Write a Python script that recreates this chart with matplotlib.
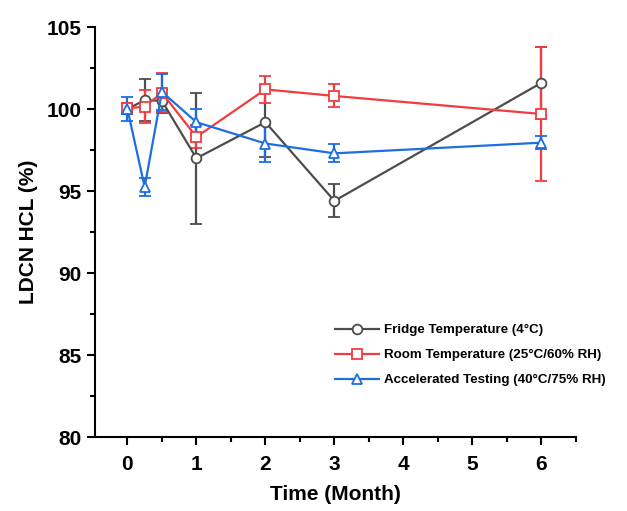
import numpy as np
import matplotlib
matplotlib.use('Agg')
import matplotlib.pyplot as plt
from matplotlib.ticker import MultipleLocator

plt.rcParams['font.family'] = ['Liberation Sans', 'DejaVu Sans']
plt.rcParams['font.weight'] = 'bold'

# time points (month)
months = [0, 0.25, 0.5, 1, 2, 3, 6]

# Fridge Temperature (4°C)
fridge = [100.0, 100.55, 100.5, 97.0, 99.2, 94.4, 101.6]
fridge_err = [0.3, 1.3, 0.75, 4.0, 2.1, 1.0, 2.2]

# Room Temperature (25°C/60% RH)
room = [100.05, 100.15, 101.0, 98.3, 101.2, 100.8, 99.7]
room_err = [0.3, 1.0, 1.2, 0.7, 0.8, 0.7, 4.1]

# Accelerated Testing (40°C/75% RH)
accel = [100.0, 95.25, 101.05, 99.2, 97.9, 97.3, 97.95]
accel_err = [0.75, 0.55, 1.1, 0.8, 1.1, 0.55, 0.4]

labels = ['Fridge Temperature (4°C)', 'Room Temperature (25°C/60% RH)',
          'Accelerated Testing (40°C/75% RH)']
colors = ['#4d4d4d', '#f23c3f', '#1c6fe0']
markers = ['o', 's', '^']

fig = plt.figure(figsize=(6.27, 5.11), dpi=100)
ax = fig.add_axes([0.1515, 0.1448, 0.767, 0.8022])

handles = []
for y, e, lab, c, m in zip([fridge, room, accel], [fridge_err, room_err, accel_err],
                           labels, colors, markers):
    cont = ax.errorbar(months, y, yerr=e, color=c, marker=m, markersize=7,
                       markerfacecolor='white', markeredgecolor=c, markeredgewidth=1.3,
                       linewidth=1.6, elinewidth=1.6, capsize=4, capthick=1.6, label=lab)
    handles.append(cont.lines[0])

ax.set_xlim(-0.47, 6.5)
ax.set_ylim(80, 105)
ax.xaxis.set_major_locator(MultipleLocator(1))
ax.xaxis.set_minor_locator(MultipleLocator(0.5))
ax.yaxis.set_major_locator(MultipleLocator(5))
ax.yaxis.set_minor_locator(MultipleLocator(2.5))
ax.spines['top'].set_visible(False)
ax.spines['right'].set_visible(False)
for s in ['left', 'bottom']:
    ax.spines[s].set_linewidth(1.5)
ax.tick_params(which='major', direction='out', length=6, width=1.5, labelsize=15)
ax.tick_params(which='minor', direction='out', length=3.5, width=1.5)
ax.tick_params(axis='x', pad=7)
for t in ax.get_xticklabels() + ax.get_yticklabels():
    t.set_fontweight('bold')

ax.set_xlabel('Time (Month)', fontsize=15, fontweight='bold', labelpad=8)
ax.set_ylabel('LDCN HCL (%)', fontsize=15, fontweight='bold', labelpad=6)

leg = ax.legend(handles, labels, loc='upper left', bbox_to_anchor=(0.475, 0.305),
                frameon=False, prop={'weight': 'bold', 'size': 9.6},
                handlelength=3.3, labelspacing=0.95, handletextpad=0.35)

fig.savefig('out.png', dpi=100)
plt.close()
